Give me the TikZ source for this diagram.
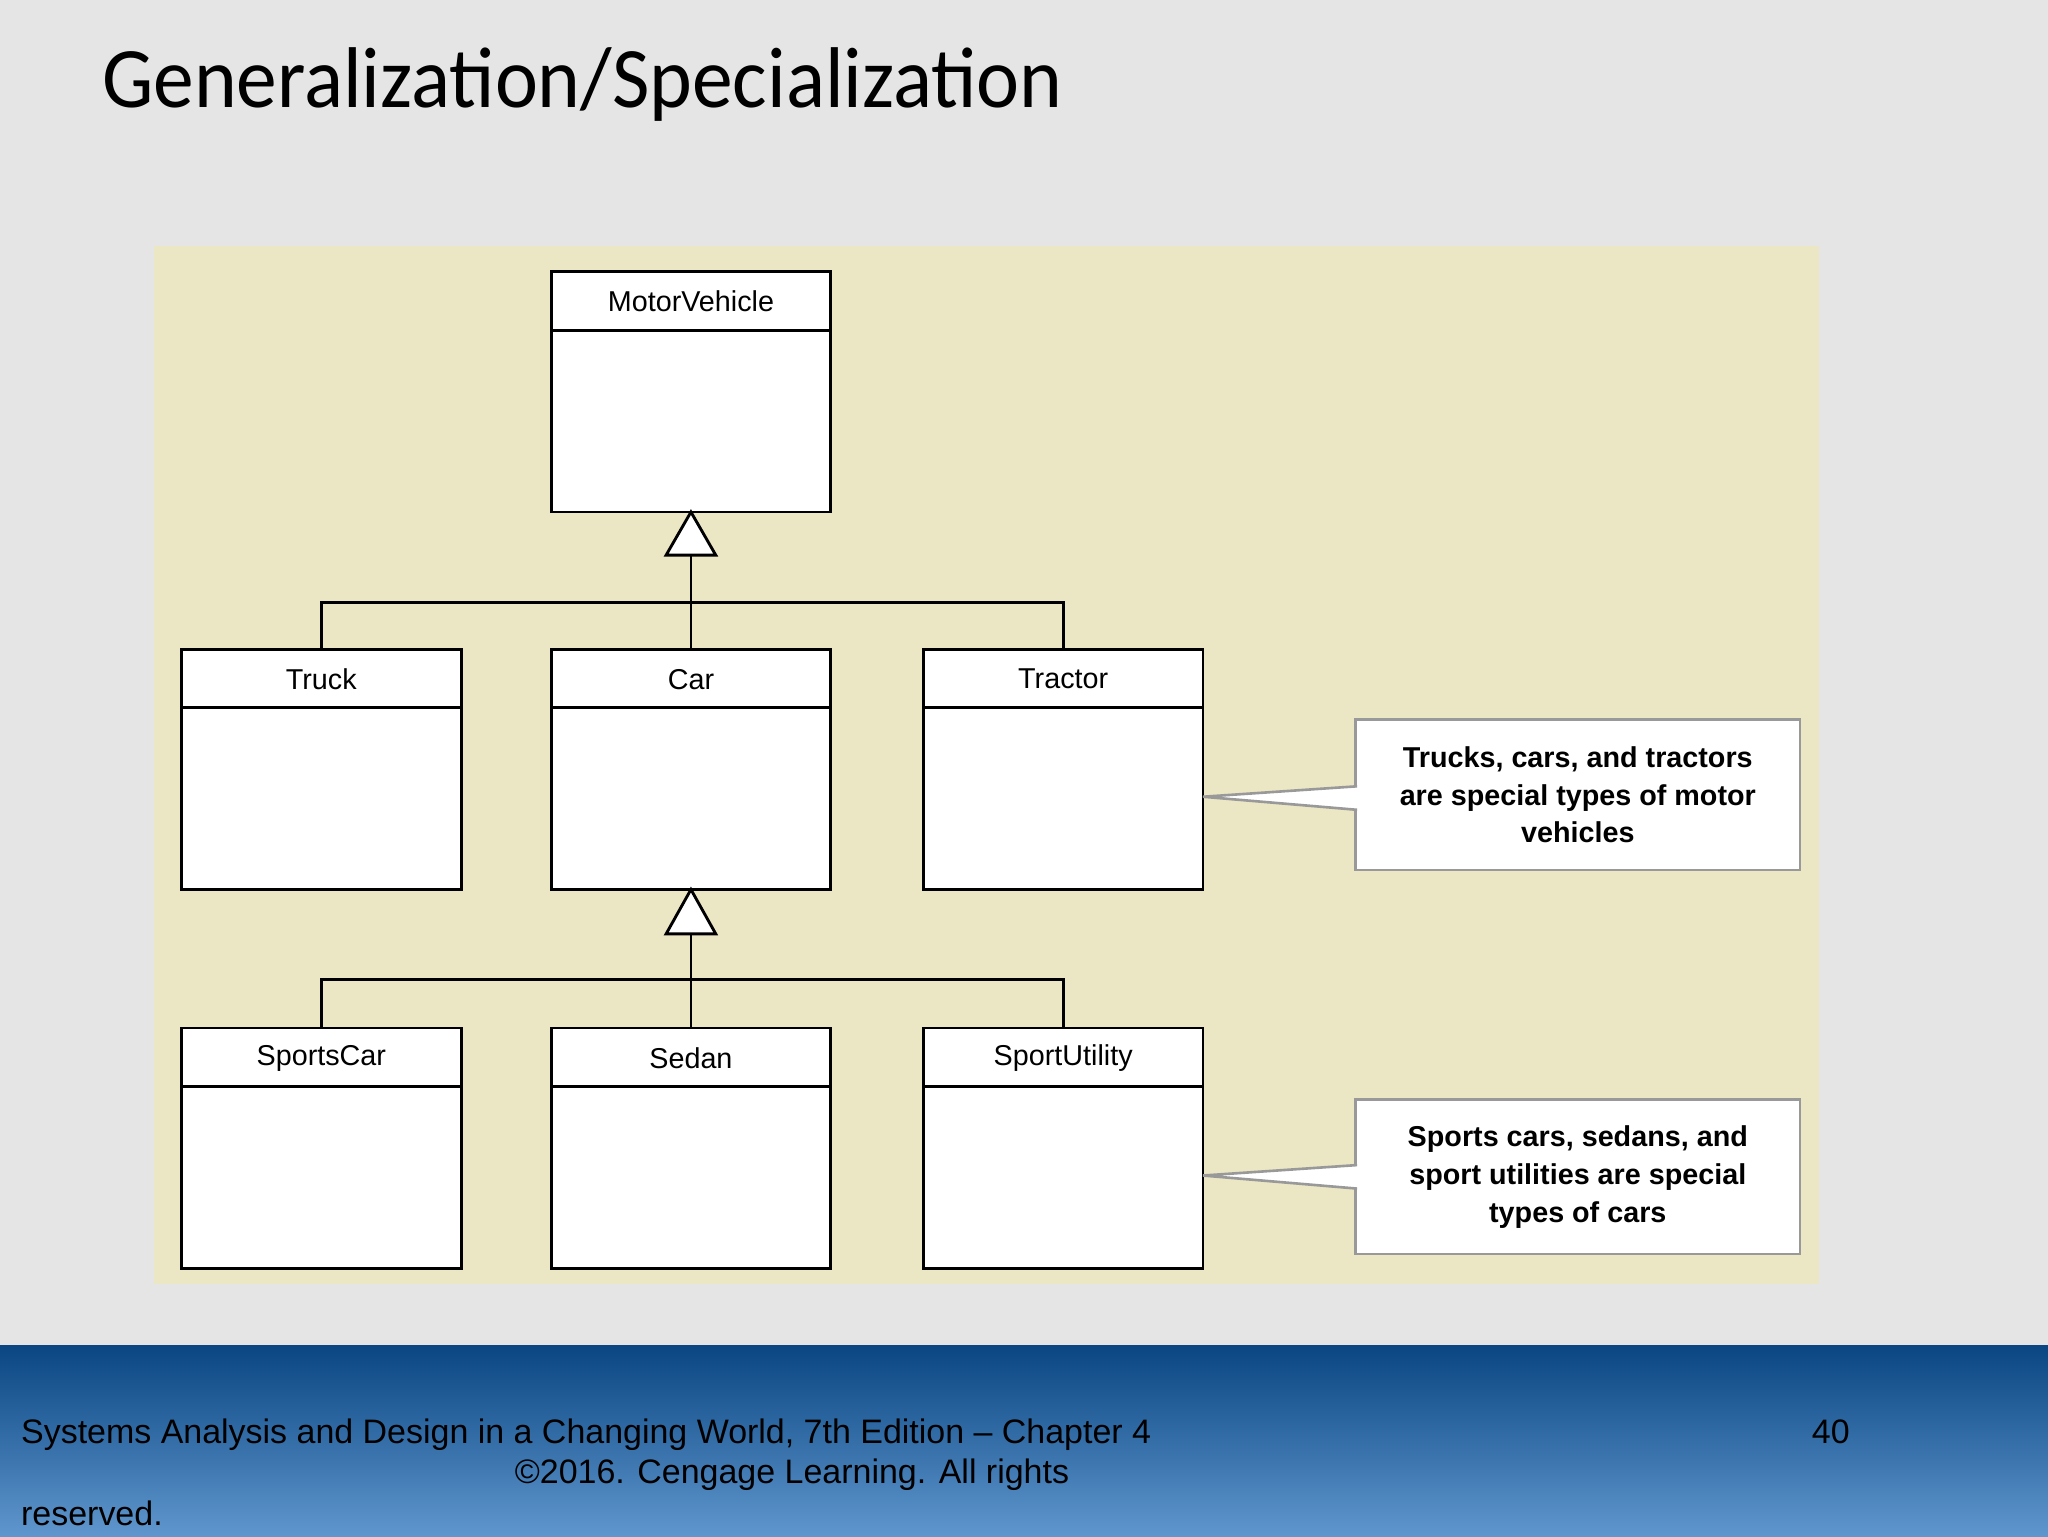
\documentclass[tikz,border=0pt]{standalone}
\usepackage{fontspec}
\setmainfont{Liberation Sans}
\newfontfamily\titlefont{Carlito}
\definecolor{bandtop}{RGB}{10,70,130}
\definecolor{bandbot}{RGB}{95,150,205}
\definecolor{panel}{RGB}{235,230,196}
\begin{document}
\begin{tikzpicture}[x=1pt,y=-1pt,
  cls/.style={draw=black,line width=2.2pt,fill=white},
  lnk/.style={line width=2.2pt},
  lbl/.style={font=\fontsize{22}{26}\selectfont,anchor=center},
  note/.style={draw=gray!80,line width=2pt,fill=white,align=center,font=\bfseries\fontsize{22}{29}\selectfont,inner sep=0pt},
  ftr/.style={font=\fontsize{26}{30}\selectfont,text=black,anchor=base west,inner sep=0pt}]
\useasboundingbox (0,0) rectangle (1568,1176);
\fill[gray!20] (0,0) rectangle (1568,1176);
\shade[top color=bandtop,bottom color=bandbot] (0,1030) rectangle (1568,1176);
\fill[panel] (118,188) rectangle (1393,983);
\node[font=\titlefont\fontsize{66}{70}\selectfont,anchor=base west,inner sep=0pt,xscale=0.945] (title) at (78,82) {Generalization/Specialization};
% classes
\foreach \n/\t/\x/\y in {mv/MotorVehicle/422/208, tr/Truck/139/497, car/Car/422/497, tc/Tractor/707/497, sc/SportsCar/139/787, se/Sedan/422/787, su/SportUtility/707/787}{
  \draw[cls] (\x,\y) rectangle ++(214,184);
  \draw[lnk] (\x,\y+45) -- ++(214,0);
  \node[lbl] (\n) at (\x+107,\y+23) {\t};
  \coordinate (\n-b) at (\x+107,\y+184);
  \coordinate (\n-t) at (\x+107,\y);
}
% generalization 1
\coordinate (j1) at (529,461);
\draw[lnk] (tr-t) |- (j1) -| (tc-t);
\draw[lnk] (car-t) -- (529,425);
\draw[lnk,fill=white,line join=miter] (mv-b) -- (548,425) -- (510,425) -- cycle;
% generalization 2
\coordinate (j2) at (529,750);
\draw[lnk] (sc-t) |- (j2) -| (su-t);
\draw[lnk] (se-t) -- (529,715);
\draw[lnk,fill=white,line join=miter] (car-b) -- (548,715) -- (510,715) -- cycle;
% notes
\node[note,minimum width=340pt,minimum height=115pt] (n1) at (1208,608.5) {Trucks, cars, and tractors\\are special types of motor\\vehicles};
\node[note,minimum width=340pt,minimum height=118pt] (n2) at (1208,901) {Sports cars, sedans, and\\sport utilities are special\\types of cars};
\draw[draw=gray!80,line width=2pt,fill=white] (1039,602) -- (921,610) -- (1039,620);
\draw[draw=gray!80,line width=2pt,fill=white] (1039,892) -- (921,900) -- (1039,910);
% footer
\node[ftr] (f1) at (16,1105) {Systems Analysis and Design in a Changing World, 7th Edition – Chapter 4};
\node[ftr] (f2) at (1387,1105) {40};
\node[ftr] (f3) at (394,1136) {©2016. Cengage Learning. All rights};
\node[ftr] (f4) at (16,1168) {reserved.};
\end{tikzpicture}
\end{document}
